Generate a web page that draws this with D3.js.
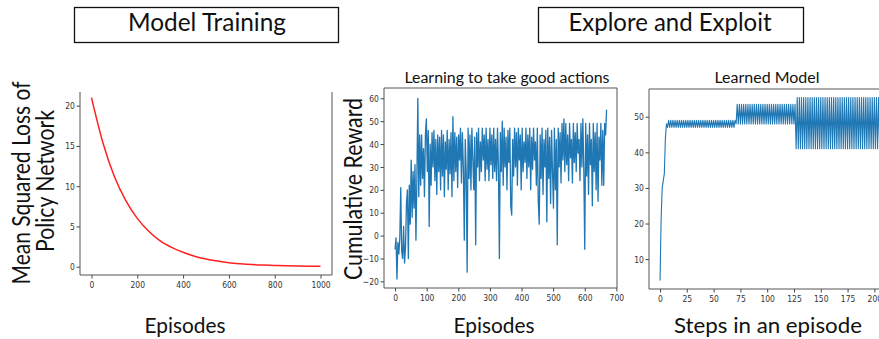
<!DOCTYPE html>
<html>
<head>
<meta charset="utf-8">
<title>Model Training / Explore and Exploit</title>
<script src="https://d3js.org/d3.v7.min.js"></script>
<style>
  body { margin: 0; background: #fff; }
  svg { display: block; }
  .tick text { font-family: "DejaVu Sans", sans-serif; font-size: 9.5px; fill: #333; }
  .big { font-family: Lato, "Open Sans", sans-serif; fill: #111; }
</style>
</head>
<body>
<div id="chart"></div>
<script>
// loss of the policy network, read every 50 episodes
const lossEpisodes = [0, 50, 100, 150, 200, 250, 300, 350, 400, 450, 500,
                      550, 600, 650, 700, 750, 800, 850, 900, 950, 1000];
const lossValues = [21, 15.4, 11.2, 8.2, 6.0, 4.4, 3.2, 2.4, 1.8, 1.3, 0.95,
                    0.7, 0.5, 0.37, 0.27, 0.2, 0.15, 0.11, 0.08, 0.06, 0.05];

// cumulative reward, one reading every 3 episodes (episode = index * 3)
const rewardStep = 3;
const rewardValues = [
  -6, -1, -19, -3, -8, -1, 21, -7, -10, 4,
  -12, -5, 14, 20, -10, 22, 5, 33, 8, 28,
  12, 31, -2, 25, 60, 17, 44, 22, 44, 25,
  38, 17, 44, 51, 28, 46, 4, 40, 22, 45,
  30, 46, 24, 42, 18, 44, 28, 43, 20, 46,
  26, 44, 17, 41, 29, 46, 20, 42, 27, 45,
  17, 52, 24, 45, 28, 43, 21, 44, 33, 47,
  23, 45, 30, -2, 42, 28, -16, 47, 25, 44,
  20, 47, 33, 20, 43, -4, 45, 30, 47, 24,
  41, 28, 47, 33, 44, 24, 47, 29, 42, 24,
  47, 31, 44, 25, 47, 28, 42, 24, 47, 30,
  -10, 45, 28, 50, 22, 47, 30, 43, 20, 46,
  32, 47, 13, 9, 42, 26, 47, 30, 45, 22,
  47, 33, 44, 20, 47, 28, 41, 32, 47, 25,
  44, 30, 47, 20, 43, 29, 47, 33, 41, 22,
  47, 15, 5, 44, 25, 47, 18, 42, 30, 46,
  6, 47, 25, 43, 14, 46, 28, 12, 47, 20,
  42, -4, 47, 30, 45, 23, 49, 33, 51, 28,
  49, 31, 44, 24, 49, 34, 42, 23, 49, 32,
  45, 28, 49, 36, 42, 24, 49, 30, 51, 29,
  -6, 49, 26, 44, 18, 49, 31, 42, 13, 49,
  28, 45, 20, 49, 15, 43, 33, 49, 22, 46,
  22, 49, 44, 55
];

// learned model: value at each step of one episode (steps 0..199)
const modelValues = [
  4, 21, 30, 32, 34, 44, 48,
  47, 49, 47, 49, 47, 49, 47, 49, 47, 49, 47, 49, 47, 49, 47, 49, 47, 49,
  47, 49, 47, 49, 47, 49, 47, 49, 47, 49, 47, 49, 47, 49, 47, 49, 47, 49,
  47, 49, 47, 49, 47, 49, 47, 49, 47, 49, 47, 49, 47, 49, 47, 49, 47, 49,
  47, 49, 47, 49, 47, 49, 47, 49, 47, 49,
  48, 53.5, 48, 53.5, 48, 53.5, 48, 53.5, 48, 53.5, 48, 53.5, 48, 53.5,
  48, 53.5, 48, 53.5, 48, 53.5, 48, 53.5, 48, 53.5, 48, 53.5, 48, 53.5,
  48, 53.5, 48, 53.5, 48, 53.5, 48, 53.5, 48, 53.5, 48, 53.5, 48, 53.5,
  48, 53.5, 48, 53.5, 48, 53.5, 48, 53.5, 48, 53.5, 48, 53.5, 48, 53.5,
  41, 55.4, 41, 55.4, 41, 55.4, 41, 55.4, 41, 55.4, 41, 55.4, 41, 55.4, 41, 55.4,
  41, 55.4, 41, 55.4, 41, 55.4, 41, 55.4, 41, 55.4, 41, 55.4, 41, 55.4, 41, 55.4,
  41, 55.4, 41, 55.4, 41, 55.4, 41, 55.4, 41, 55.4, 41, 55.4, 41, 55.4, 41, 55.4,
  41, 55.4, 41, 55.4, 41, 55.4, 41, 55.4, 41, 55.4, 41, 55.4, 41, 55.4, 41, 55.4,
  41, 55.4, 41, 55.4, 41, 55.4, 41, 55.4, 41, 55.4, 41, 55.4, 41, 55.4, 41, 55.4,
  41, 55.4
];

const lossTicksX = [0, 200, 400, 600, 800, 1000];
const lossTicksY = [0, 5, 10, 15, 20];
const rewardTicksX = [0, 100, 200, 300, 400, 500, 600, 700];
const rewardTicksY = [-20, -10, 0, 10, 20, 30, 40, 50, 60];
const modelTicksX = [0, 25, 50, 75, 100, 125, 150, 175, 200];
const modelTicksY = [10, 20, 30, 40, 50];

const W = 879, H = 339;
const svg = d3.select("#chart").append("svg")
  .attr("width", W).attr("height", H);

svg.append("rect").attr("width", W).attr("height", H).attr("fill", "#fff");

// draws one matplotlib-like panel
function panel(p) {
  const x = d3.scaleLinear().domain(p.xDomain).range([p.left, p.right]);
  const y = d3.scaleLinear().domain(p.yDomain).range([p.bottom, p.top]);
  const g = svg.append("g");

  const line = d3.line()
    .x((d, i) => x(p.xs[i]))
    .y(d => y(d));
  if (p.curve) line.curve(p.curve);

  g.append("path")
    .datum(p.ys)
    .attr("fill", "none")
    .attr("stroke", p.color)
    .attr("stroke-width", p.width)
    .attr("stroke-linejoin", "round")
    .attr("d", line);

  const xAxis = g.append("g")
    .attr("transform", "translate(0," + p.bottom + ")")
    .call(d3.axisBottom(x).tickValues(p.ticksX).tickSize(3.5).tickPadding(3).tickFormat(d3.format("d")));
  const yAxis = g.append("g")
    .attr("transform", "translate(" + p.left + ",0)")
    .call(d3.axisLeft(y).tickValues(p.ticksY).tickSize(3.5).tickPadding(3).tickFormat(d => d < 0 ? "\u2212" + (-d) : d));

  [xAxis, yAxis].forEach(a => {
    a.select(".domain").remove();
    a.selectAll(".tick line").attr("stroke", "#444");
    a.selectAll(".tick text").attr("transform", "scale(0.8,1)");
  });

  // spines
  const sp = g.append("g").attr("stroke", "#555").attr("stroke-width", 1).attr("fill", "none");
  sp.append("line").attr("x1", p.left).attr("x2", p.left).attr("y1", p.top).attr("y2", p.bottom);
  sp.append("line").attr("x1", p.left).attr("x2", p.right).attr("y1", p.bottom).attr("y2", p.bottom);
  sp.append("line").attr("x1", p.right).attr("x2", p.right).attr("y1", p.top).attr("y2", p.bottom);
  if (p.topSpine) sp.append("line").attr("x1", p.left).attr("x2", p.right).attr("y1", p.top).attr("y2", p.top);
}

panel({
  xs: lossEpisodes, ys: lossValues, curve: d3.curveMonotoneX,
  xDomain: [-50, 1050], yDomain: [-1.03, 21.7],
  left: 80, right: 332, top: 92, bottom: 275,
  ticksX: lossTicksX, ticksY: lossTicksY,
  color: "#ff2020", width: 1.5, topSpine: false
});

panel({
  xs: rewardValues.map((d, i) => i * rewardStep), ys: rewardValues,
  xDomain: [-35, 702], yDomain: [-22.9, 64.5],
  left: 384, right: 617, top: 88, bottom: 288,
  ticksX: rewardTicksX, ticksY: rewardTicksY,
  color: "#1f77b4", width: 1.3, topSpine: true
});

panel({
  xs: modelValues.map((d, i) => i), ys: modelValues,
  xDomain: [-10.3, 209], yDomain: [1.6, 57.8],
  left: 649, right: 884, top: 89, bottom: 289,
  ticksX: modelTicksX, ticksY: modelTicksY,
  color: "#1f77b4", width: 1.1, topSpine: true
});

// text at a given size, squeezed to the width it has in the picture
function label(txt, cx, cy, width, size, rotate) {
  const t = svg.append("text").attr("class", "big")
    .attr("text-anchor", "middle")
    .attr("font-size", size)
    .attr("textLength", width)
    .attr("lengthAdjust", "spacingAndGlyphs")
    .text(txt);
  if (rotate) t.attr("transform", "translate(" + cx + "," + cy + ") rotate(-90)");
  else t.attr("x", cx).attr("y", cy);
  return t;
}

// header boxes
svg.append("rect").attr("x", 74.5).attr("y", 7.5).attr("width", 264).attr("height", 35)
  .attr("fill", "none").attr("stroke", "#111").attr("stroke-width", 1.3);
svg.append("rect").attr("x", 538.5).attr("y", 7.5).attr("width", 265).attr("height", 35)
  .attr("fill", "none").attr("stroke", "#111").attr("stroke-width", 1.3);
label("Model Training", 207, 31, 158, 25);
label("Explore and Exploit", 670, 30.5, 203, 25);

// panel titles
label("Learning to take good actions", 507, 83, 205, 15.5);
label("Learned Model", 767, 83, 105, 15.5);

// axis titles
label("Mean Squared Loss of", 30, 183, 203, 24.5, true);
label("Policy Network", 54, 181, 142, 24.5, true);
label("Cumulative Reward", 362, 189, 182, 24.5, true);
label("Episodes", 185, 333, 81, 21.5);
label("Episodes", 494, 333, 81, 21.5);
label("Steps in an episode", 768, 333, 188, 21.5);
</script>
</body>
</html>
